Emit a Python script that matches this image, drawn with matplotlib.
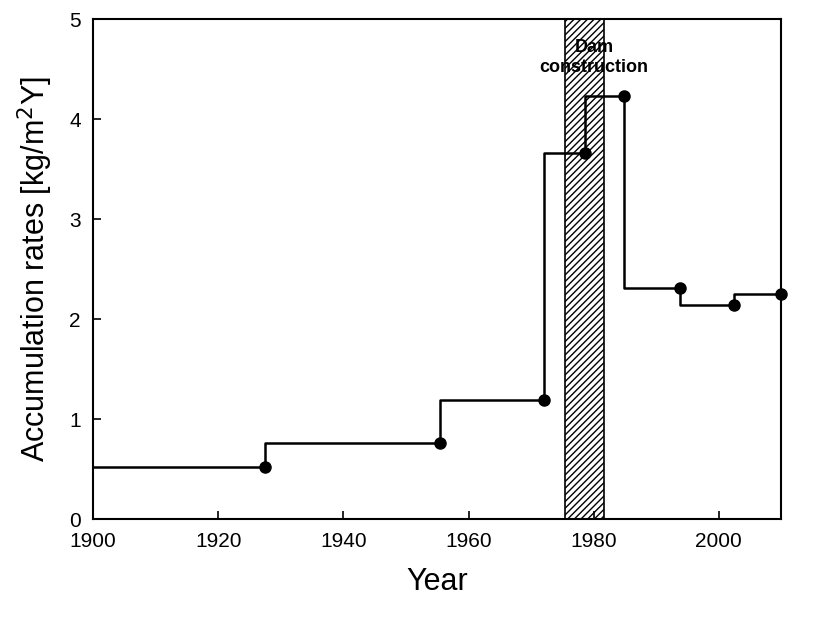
import matplotlib
matplotlib.use("Agg")
import matplotlib.pyplot as plt
plt.rcParams["font.family"] = "Liberation Sans"

years = [1927.5, 1955.5, 1972.0, 1978.7, 1984.8, 1993.8, 2002.4, 2009.9]
rates = [0.52, 0.76, 1.19, 3.66, 4.23, 2.31, 2.14, 2.25]
start_year = 1900
dam_start, dam_end = 1975.5, 1981.6

fig = plt.figure(figsize=(8.25, 6.21), dpi=100)
ax = fig.add_axes([0.113, 0.164, 0.834, 0.805])
ax.axvspan(dam_start, dam_end, facecolor="white", edgecolor="black", hatch="/////", lw=1.2, zorder=1)
ax.plot([start_year] + years, [rates[0]] + rates, drawstyle="steps-pre", color="black", lw=1.8, zorder=2)
ax.plot(years, rates, "o", color="black", ms=8, zorder=3, clip_on=False)
ax.text((dam_start + dam_end) / 2 + 1.5, 4.62, "Dam\nconstruction", ha="center", va="center",
        fontsize=13, fontweight="bold", zorder=4)
ax.set_xlim(1900, 2010)
ax.set_ylim(0, 5)
ax.set_xticks([1900, 1920, 1940, 1960, 1980, 2000])
ax.set_yticks([0, 1, 2, 3, 4, 5])
ax.tick_params(direction="in", length=6, width=1.2, labelsize=15, pad=9)
for s in ax.spines.values():
    s.set_linewidth(1.5)
ax.set_xlabel("Year", fontsize=22, labelpad=12)
ax.set_ylabel("Accumulation rates [kg/m$^2$Y]", fontsize=22, labelpad=10)
fig.savefig("out.png")
